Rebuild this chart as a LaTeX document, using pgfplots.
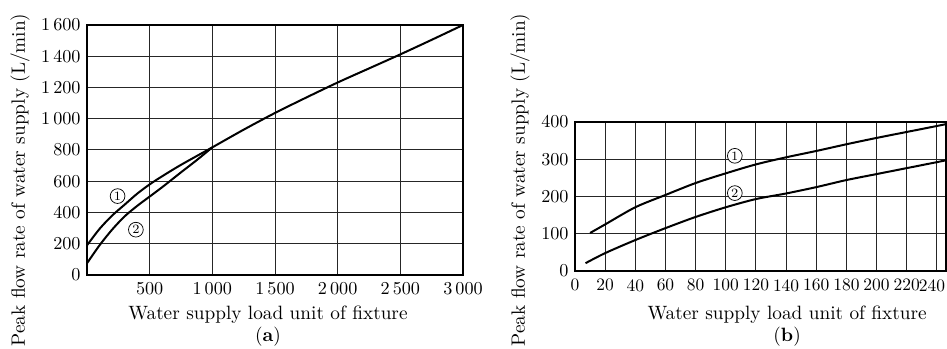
\documentclass[border=0pt]{standalone}
\usepackage{pgfplots}
\pgfplotsset{compat=1.18}
\begin{document}
\begin{tikzpicture}
\pgfplotsset{
  every axis/.append style={
    scale only axis, anchor=south west,
    grid=major,
    major grid style={black!85, line width=0.55pt},
    axis line style={line width=0.8pt},
    tick style={draw=none},
    tick label style={font=\fontsize{9.6}{11}\selectfont},
    scaled ticks=false,
    /pgf/number format/1000 sep={\,},
    clip=true,
  },
}
% ---------- (a)
\begin{axis}[
  at={(47.85pt,40.7pt)}, width=206.8pt, height=137.5pt,
  xmin=0, xmax=3000, ymin=0, ymax=1600,
  xtick={500,1000,1500,2000,2500,3000},
  ytick={0,200,400,600,800,1000,1200,1400,1600},
  xticklabel style={yshift=-1pt},
]
\addplot[black, line width=1.1pt, smooth] coordinates {
 (0,190) (100,295) (200,380) (300,450) (400,520) (500,580) (600,632) (750,705) (1000,817)
 (1250,930) (1500,1037) (1750,1136) (2000,1232) (2250,1322) (2500,1412) (2750,1505) (3000,1600)};
\addplot[black, line width=1.1pt, smooth] coordinates {
 (0,75) (100,190) (200,290) (300,375) (400,442) (500,502) (600,562) (750,657) (880,738) (1000,817)};
\node[circle, draw, inner sep=0.7pt, font=\scriptsize, fill=white] at (axis cs:244,505) {1};
\node[circle, draw, inner sep=0.7pt, font=\scriptsize, fill=white] at (axis cs:390,290) {2};
\end{axis}
% ---------- (b)
\begin{axis}[
  at={(316.25pt,42.9pt)}, width=204pt, height=82pt,
  xmin=0, xmax=246, ymin=0, ymax=400,
  xtick={0,20,...,240},
  xticklabels={0,20,40,60,80,100,120,140,160,180,200,220,{\makebox[9pt][r]{240}}},
  ytick={0,100,200,300,400},
  xticklabel style={yshift=-1pt},
]
\addplot[black, line width=1.1pt, smooth] coordinates {
 (10,102) (20,125) (40,171) (60,204) (80,236) (100,262) (120,286) (140,305)
 (160,322) (180,340) (200,357) (220,373) (240,389) (246,394)};
\addplot[black, line width=1.1pt, smooth] coordinates {
 (7,21) (20,48) (40,83) (60,115) (80,145) (100,171) (120,193) (140,208)
 (160,225) (180,244) (200,260) (220,276) (240,292) (246,297)};
\node[circle, draw, inner sep=0.7pt, font=\scriptsize, fill=white] at (axis cs:106,309) {1};
\node[circle, draw, inner sep=0.7pt, font=\scriptsize, fill=white] at (axis cs:106,209) {2};
\end{axis}
% ---------- labels
\begin{scope}[every node/.style={font=\fontsize{10.6}{12}\selectfont}]
\node[rotate=90] at (11pt,93pt) {Peak flow rate of water supply (L/min)};
\node[rotate=90] at (286pt,93pt) {Peak flow rate of water supply (L/min)};
\node at (147.4pt,18.7pt) {Water supply load unit of fixture};
\node at (147.4pt,6.6pt) {(\textbf{a})};
\node at (432.9pt,18.7pt) {Water supply load unit of fixture};
\node at (432.9pt,6.6pt) {(\textbf{b})};
\end{scope}
\pgfresetboundingbox
\path[use as bounding box] (0,0) rectangle (520.85pt,191.95pt);
\end{tikzpicture}
\end{document}
